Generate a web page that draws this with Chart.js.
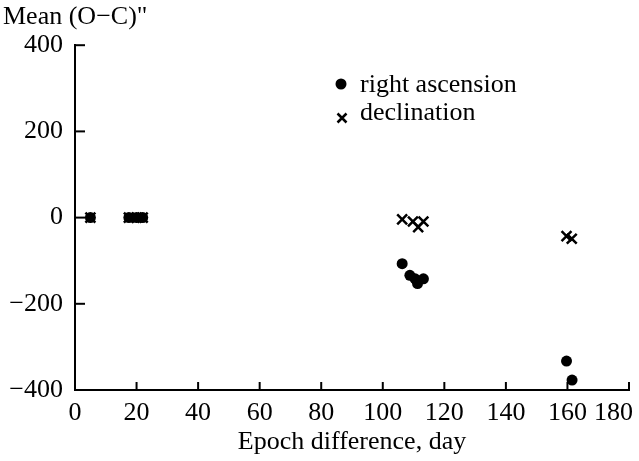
<!DOCTYPE html>
<html>
<head>
<meta charset="utf-8">
<script src="https://cdn.jsdelivr.net/npm/chart.js@4.4.1/dist/chart.umd.min.js"></script>
<style>
  html, body { margin: 0; padding: 0; background: #fff; }
  #wrap { width: 639px; height: 461px; }
</style>
</head>
<body>
<div id="wrap"><canvas id="myChart" width="639" height="461"></canvas></div>
<script>
// values
const raDays = [5, 17.5, 20, 22, 106.3, 108.8, 110.5, 111.3, 113.2, 159.7, 161.5];
const raValues = [0, 0, 0, 0, -107, -134, -142, -153, -142, -333, -377];
const decDays = [5, 17.5, 20, 22, 106.3, 109.8, 111.5, 113.2, 159.7, 161.4];
const decValues = [0, 0, 0, 0, -4, -9, -22, -9, -43, -49];
const xTicks = [0, 20, 40, 60, 80, 100, 120, 140, 160, 180];
const yTicks = [-400, -200, 0, 200, 400];
const seriesNames = ['right ascension', 'declination'];

const FONT = 'Liberation Serif, Times New Roman, serif';

const toPoints = (xs, ys) => xs.map((x, i) => ({ x: x, y: ys[i] }));

// inward tick marks
const innerTicks = {
  id: 'innerTicks',
  afterDraw(chart) {
    const { ctx, scales: { x, y }, chartArea } = chart;
    ctx.save();
    ctx.strokeStyle = '#000';
    ctx.lineWidth = 2;
    xTicks.forEach((v) => {
      const px = x.getPixelForValue(v);
      ctx.beginPath();
      ctx.moveTo(px, chartArea.bottom);
      ctx.lineTo(px, chartArea.bottom - 8);
      ctx.stroke();
    });
    yTicks.forEach((v) => {
      const py = y.getPixelForValue(v);
      ctx.beginPath();
      ctx.moveTo(chartArea.left, py);
      ctx.lineTo(chartArea.left + 10, py);
      ctx.stroke();
    });
    ctx.restore();
  },
};

// legend inside the plot
const innerLegend = {
  id: 'innerLegend',
  afterDraw(chart) {
    const { ctx } = chart;
    ctx.save();
    ctx.fillStyle = '#000';
    ctx.strokeStyle = '#000';
    ctx.font = '26px ' + FONT;
    ctx.textBaseline = 'middle';
    ctx.textAlign = 'left';

    ctx.beginPath();
    ctx.arc(341, 84, 5.5, 0, Math.PI * 2);
    ctx.fill();
    ctx.fillText(seriesNames[0], 360, 85);

    ctx.lineWidth = 2.5;
    ctx.beginPath();
    ctx.moveTo(337.5, 113.5); ctx.lineTo(346.5, 122.5);
    ctx.moveTo(346.5, 113.5); ctx.lineTo(337.5, 122.5);
    ctx.stroke();
    ctx.fillText(seriesNames[1], 360, 113);
    ctx.restore();
  },
};

const ctx = document.getElementById('myChart').getContext('2d');
new Chart(ctx, {
  type: 'scatter',
  data: {
    datasets: [
      {
        label: seriesNames[0],
        data: toPoints(raDays, raValues),
        pointStyle: 'circle',
        pointRadius: 5.5,
        backgroundColor: '#000',
        borderColor: '#000',
        borderWidth: 0,
      },
      {
        label: seriesNames[1],
        data: toPoints(decDays, decValues),
        pointStyle: 'crossRot',
        pointRadius: 7,
        backgroundColor: '#000',
        borderColor: '#000',
        borderWidth: 2.5,
      },
    ],
  },
  options: {
    responsive: false,
    animation: false,
    devicePixelRatio: 1,
    layout: { padding: { left: 3, right: 10, top: 0, bottom: 3 } },
    plugins: {
      legend: { display: false },
      tooltip: { enabled: false },
      title: {
        display: true,
        text: 'Mean (O\u2212C)"',
        align: 'start',
        color: '#000',
        font: { family: FONT, size: 26, weight: 'normal' },
        padding: { top: 2, bottom: 12 },
      },
    },
    scales: {
      x: {
        type: 'linear',
        min: 0,
        max: 180,
        afterBuildTicks: (s) => { s.ticks = xTicks.map((v) => ({ value: v })); },
        afterFit: (s) => { s.height = 68; s.paddingLeft = 0; s.paddingRight = 0; },
        grid: { display: true, drawOnChartArea: false, drawTicks: false },
        border: { display: true, color: '#000', width: 2 },
        ticks: {
          color: '#000',
          padding: 8,
          maxRotation: 0,
          autoSkip: false,
          font: { family: FONT, size: 26 },
          // last label sits left of its tick, as in the original figure
          callback: (v) => (v === 180 ? '180\u2002\u2002\u2009' : String(v)),
        },
        title: {
          display: true,
          text: 'Epoch difference, day',
          color: '#000',
          font: { family: FONT, size: 26 },
          padding: { top: 0, bottom: 0 },
        },
      },
      y: {
        type: 'linear',
        min: -400,
        max: 400,
        afterBuildTicks: (s) => { s.ticks = yTicks.map((v) => ({ value: v })); },
        afterFit: (s) => { s.width = 72; s.paddingTop = 0; s.paddingBottom = 0; },
        grid: { display: true, drawOnChartArea: false, drawTicks: false },
        border: { display: true, color: '#000', width: 2 },
        ticks: {
          color: '#000',
          padding: 12,
          font: { family: FONT, size: 26 },
          callback: (v) => String(v).replace('-', '\u2212'),
        },
      },
    },
  },
  plugins: [innerTicks, innerLegend],
});
</script>
</body>
</html>
